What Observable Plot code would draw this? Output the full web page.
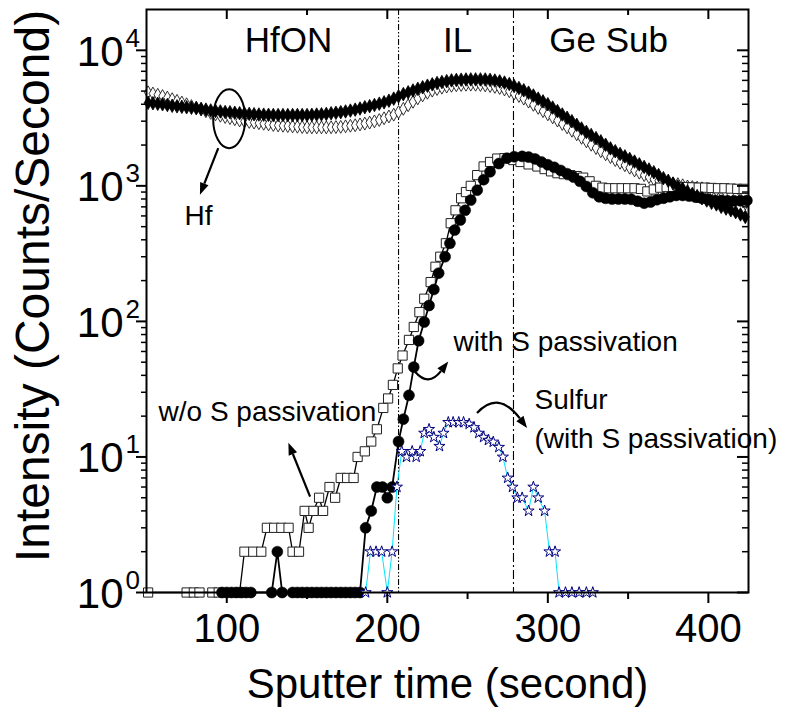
<!DOCTYPE html>
<html><head><meta charset="utf-8">
<script src="https://cdn.jsdelivr.net/npm/d3@7"></script>
<script src="https://cdn.jsdelivr.net/npm/@observablehq/plot@0.6"></script>
<style>body{margin:0;background:#fff}#chart svg{overflow:visible}</style>
</head><body><div id="chart"></div>
<script>
// ---------- axis ticks ----------
const xMajor = [100, 200, 300, 400];
const xMinor = [150, 250, 350];
const yDecades = [1, 10, 100, 1000, 10000];
const yExponents = ["0", "1", "2", "3", "4"];
const yMinorMult = [2, 3, 4, 5, 6, 7, 8, 9];

// ---------- region labels / boundaries ----------
const regionLabels = ["HfON", "IL", "Ge Sub"];
const regionX = [138.5, 243.8, 337.9];
const boundaryX = [207, 278.6];

// ---------- Hf (diamonds) ----------
const hfTime = [51,54,57,60,63,66,69,72,75,78,81,84,87,90,93,96,99,102,105,108,111,114,117,120,123,126,129,132,135,138,141,144,147,150,153,156,159,162,165,168,171,174,177,180,183,186,189,192,195,198,201,204,207,210,213,216,219,222,225,228,231,234,237,240,243,246,249,252,255,258,261,264,267,270,273,276,279,282,285,288,291,294,297,300,303,306,309,312,315,318,321,324,327,330,333,336,339,342,345,348,351,354,357,360,363,366,369,372,375,378,381,384,387,390,393,396,399,402,405,408,411,414,417,420,423];
const hfWithout = [4900,4800,4700,4600,4480,4360,4240,4120,4000,3880,
3770,3660,3550,3450,3370,3290,3220,3160,3100,3040,
2990,2960,2930,2900,2870,2840,2810,2790,2775,2760,
2745,2730,2715,2700,2700,2700,2700,2700,2705,2715,
2725,2750,2775,2800,2840,2880,2930,2990,3060,3150,
3250,3350,3500,3700,3930,4170,4420,4650,4860,5040,
5180,5300,5400,5470,5520,5550,5570,5580,5570,5550,
5510,5450,5370,5270,5140,4990,4800,4600,4400,4180,
3960,3760,3560,3370,3200,3030,2860,2700,2550,2400,
2260,2130,2010,1900,1800,1710,1630,1550,1480,1420,
1360,1300,1250,1200,1160,1120,1090,1060,1050,1040,
1030,1010,990,980,970,960,950,940,930,910,
890,860,830,790,740];
const hfWith = [4100,4070,4030,4000,3950,3900,3860,3830,3800,3770,
3740,3700,3650,3600,3570,3540,3505,3490,3460,3435,
3415,3395,3375,3360,3350,3340,3330,3330,3330,3330,
3330,3330,3330,3330,3340,3355,3370,3395,3430,3460,
3495,3540,3590,3650,3720,3800,3870,3950,4040,4130,
4250,4400,4580,4750,4900,5050,5200,5340,5480,5610,
5730,5830,5920,6000,6040,6070,6090,6100,6100,6100,
6090,6050,5980,5900,5780,5640,5450,5270,5070,4870,
4640,4400,4200,4000,3780,3560,3360,3180,3000,2820,
2650,2500,2370,2250,2130,2010,1890,1800,1720,1650,
1580,1510,1440,1380,1320,1260,1200,1140,1090,1040,
990,950,910,870,840,810,780,750,730,700,
680,660,640,615,590];

// ---------- Ge, without S passivation (open squares) ----------
const geWoTime = [51,75,79.5,83,91,95,108,111,116.5,121.5,125,129.5,134,138.5,141,145,148.5,151,154,157.5,160,164,167.5,171,175,179,181.5,186,190,193.5,197.5,200.5,203.5,206.5,209.5,213.5,216.5,220,223,227,230,233,236.5,239.5,242.5,246,249,252,256,260,264,268.5,273,278.5,283,288,293.5,298,302,306,310,314,318,322,326,330,334,338,342,346,350,354,358,362,366,370,374,378,382,386,390,394,398,402,406,410,414,418,422];
const geWoVal = [1,1,1,1,1,1,1,2,2,2,3,3,3,3,2,2,4,3,4,5,4,6,5,7,7,7,10,11,13,16,23,27,34,45,56,73,91,117,147,195,253,300,377,530,660,810,900,1000,1200,1390,1500,1590,1600,1550,1500,1440,1390,1330,1280,1240,1220,1200,1180,1150,1080,1000,970,960,960,960,960,960,950,910,940,970,980,980,980,980,975,970,970,965,960,960,955,950,950];

// ---------- Ge, with S passivation (filled circles) ----------
const geWsTime = [97,100,103,106,109,112,115,128,131.5,134.5,141,144,147,150,153,156,159,162,165,168,171,174,177,180,183,186.5,190,193.5,197,200,203,207,210,213.5,216.5,219.5,223,226,229,232,236,239,242,245.5,248.5,252,256,260,264,269.5,274.5,279,284,288,292,296,300,304,308,312,316,320,324,328,332,336,340,344,348,352,356,360,364,368,372,376,380,384,388,392,396,400,404,408,412,416,420,424];
const geWsVal = [1,1,1,1,1,1,1,1,2,1,1,1,1,1,1,1,1,1,1,1,1,1,1,1,1,3,4,6,6,5,6,13,19,28.5,46,72,99,131,172,227,300,377,472,560,660,785,930,1110,1270,1460,1600,1640,1650,1630,1580,1500,1430,1370,1300,1230,1160,1080,990,890,830,810,800,800,800,795,770,745,760,790,810,830,850,850,840,825,810,795,780,780,775,775,775,780];

// ---------- Sulfur (stars) ----------
const sTime = [186.5,189.5,193,196.5,200,203,206,209,212,215.5,218,220.5,223,226,229,232.5,235,238,241,244.5,247.5,251,254,257,260,263,266,269.5,272,275,278,281,284,288,291,294,298,301,304.5,307,311,315,319.5,324,328];
const sVal = [1,2,2,2,1,2,6,11,10,11,10,11,15,16,14,12,15,18,18,18,18,17.5,16.5,15,14,13.3,12.9,11.8,10,7,6,5,5,4,6,5,4,2,2,1,1,1,1,1,1];

// ---------- annotations ----------
const noteText = ["w/o S passivation", "with S passivation", "Sulfur", "(with S passivation)", "Hf"];
const noteX = [57.5, 241.3, 291.7, 291.7, 73.7];
const noteY = [21.4, 70.4, 26.3, 13.6, 598];
const hfEllipse = {t: 101.8, v: 3105};
const arrows = [
  [[95.0, 1882], [83.6, 851]],
  [[152.2, 5.05], [138.7, 12.6]],
  [[217.6, 42.2], [225.9, 32.4], [238.3, 50.1]],
  [[256.2, 20.9], [269.5, 31.0], [287.4, 16.2]]
];

// ---------- checks ----------
[[hfTime, hfWithout], [hfTime, hfWith], [geWoTime, geWoVal], [geWsTime, geWsVal], [sTime, sVal]].forEach(([a, b], i) => {
  if (a.length !== b.length) throw new Error("length mismatch in series " + i + ": " + a.length + " vs " + b.length);
});

const rec = (ts, vs) => ts.map((t, i) => ({t, v: vs[i]}));
const hfWo = rec(hfTime, hfWithout);
const hfWs = rec(hfTime, hfWith);
const geWo = rec(geWoTime, geWoVal);
const geWs = rec(geWsTime, geWsVal);
const sul = rec(sTime, sVal);
const yMinor = yDecades.slice(0, 4).flatMap(d => yMinorMult.map(m => m * d));

const W = 785, H = 708, mL = 146, mR = 37, mT = 9, mB = 116;
const innerW = W - mL - mR, innerH = H - mT - mB;
const font = "Liberation Sans, Arial, Helvetica, sans-serif";

const chart = Plot.plot({
  width: W, height: H,
  marginLeft: mL, marginRight: mR, marginTop: mT, marginBottom: mB,
  x: {domain: [50, 425], axis: null},
  y: {type: "log", domain: [1, 20000], axis: null},
  style: {fontFamily: font, background: "white", color: "black"},
  marks: [
    // region boundaries
    Plot.ruleX([boundaryX[0]], {x: d => d, stroke: "black", strokeWidth: 1.1, strokeDasharray: "6,2,1.5,2,1.5,2"}),
    Plot.ruleX([boundaryX[1]], {x: d => d, stroke: "black", strokeWidth: 1.1, strokeDasharray: "9,3,2,3"}),
    // Hf without S (open diamonds)
    Plot.dot(hfWo, {x: "t", y: "v", symbol: "diamond", r: 3.9, fill: "white", stroke: "black", strokeWidth: 0.8}),
    // Ge without S (open squares)
    Plot.line(geWo, {x: "t", y: "v", stroke: "black", strokeWidth: 1.3}),
    Plot.dot(geWo, {x: "t", y: "v", symbol: "square", r: 5.2, fill: "white", stroke: "#222", strokeWidth: 1}),
    // Hf with S (filled diamonds)
    Plot.dot(hfWs, {x: "t", y: "v", symbol: "diamond", r: 4.1, fill: "black", stroke: "black", strokeWidth: 0.8}),
    // Ge with S (filled circles)
    Plot.line(geWs, {x: "t", y: "v", stroke: "black", strokeWidth: 1.8}),
    Plot.dot(geWs, {x: "t", y: "v", symbol: "circle", r: 5.5, fill: "black", stroke: "black", strokeWidth: 0.5}),
    // Sulfur (stars)
    Plot.line(sul, {x: "t", y: "v", stroke: "#00e5ff", strokeWidth: 1}),
    Plot.dot(sul, {x: "t", y: "v", symbol: "star", r: 3.5, fill: "white", stroke: "#000080", strokeWidth: 1}),
    // frame and axes
    Plot.frame({stroke: "black", strokeWidth: 2}),
    Plot.axisX({anchor: "bottom", ticks: xMajor, tickSize: 11, tickPadding: 10, strokeWidth: 2, fontSize: 40, tickFormat: d => String(d), label: null}),
    Plot.axisX({anchor: "bottom", ticks: xMinor, tickSize: 7, strokeWidth: 2, tickFormat: () => "", label: null}),
    Plot.tickX(xMajor, {x: d => d, insetBottom: innerH - 10, strokeWidth: 2}),
    Plot.tickX(xMinor, {x: d => d, insetBottom: innerH - 6, strokeWidth: 2}),
    Plot.axisY({anchor: "left", ticks: yDecades, tickSize: 10, strokeWidth: 2, tickFormat: () => "", label: null}),
    Plot.axisY({anchor: "left", ticks: yMinor, tickSize: 5, strokeWidth: 1.5, tickFormat: () => "", label: null}),
    Plot.tickY(yDecades, {y: d => d, insetLeft: innerW - 11, strokeWidth: 2}),
    Plot.tickY(yMinor, {y: d => d, insetLeft: innerW - 6, strokeWidth: 1.5}),
    // y tick labels 10^n
    Plot.text(yDecades, {y: d => d, frameAnchor: "left", text: () => "10", textAnchor: "end", lineAnchor: "middle", dx: -23, dy: 2, fontSize: 42, fill: "black"}),
    Plot.text(yDecades, {y: d => d, frameAnchor: "left", text: (d, i) => yExponents[i], textAnchor: "start", lineAnchor: "middle", dx: -21, dy: -12, fontSize: 26, fill: "black"}),
    // axis titles
    Plot.text(["Sputter time (second)"], {frameAnchor: "bottom", text: d => d, textAnchor: "middle", lineAnchor: "middle", dy: 92, fontSize: 42, fill: "black"}),
    Plot.text(["Intensity (Counts/Second)"], {frameAnchor: "left", text: d => d, rotate: -90, textAnchor: "middle", lineAnchor: "middle", dx: -113, dy: -15, fontSize: 48, fill: "black"}),
    // region labels
    Plot.text(regionLabels, {x: (d, i) => regionX[i], frameAnchor: "top", textAnchor: "middle", lineAnchor: "top", dy: 18, text: d => d, fontSize: 35, fill: "black"}),
    // annotation texts
    Plot.text(noteText, {x: (d, i) => noteX[i], y: (d, i) => noteY[i], text: d => d, textAnchor: "start", lineAnchor: "middle", fontSize: 28, fill: "black"})
  ]
});

document.getElementById("chart").appendChild(chart);

// ---------- annotation shapes, positioned through Plot's scales ----------
const sx = chart.scale("x"), sy = chart.scale("y");
const P = ([t, v]) => [sx.apply(t), sy.apply(v)];
const g = d3.select(chart).append("g").attr("fill", "none").attr("stroke", "black");
g.append("ellipse")
  .attr("cx", sx.apply(hfEllipse.t)).attr("cy", sy.apply(hfEllipse.v))
  .attr("rx", 16).attr("ry", 29.5).attr("stroke-width", 2);
function drawArrow(pts) {
  const p = pts.map(P);
  const e = p[p.length - 1], c = p[p.length - 2];
  const ang = Math.atan2(e[1] - c[1], e[0] - c[0]);
  const head = 12, hw = 4.5;
  const bx = e[0] - head * Math.cos(ang), by = e[1] - head * Math.sin(ang);
  const d = p.length === 2 ? `M${p[0]}L${bx},${by}` : `M${p[0]}Q${p[1]} ${bx},${by}`;
  g.append("path").attr("d", d).attr("stroke-width", 2.2);
  const nx = -Math.sin(ang) * hw, ny = Math.cos(ang) * hw;
  g.append("path").attr("d", `M${e}L${bx + nx},${by + ny}L${bx - nx},${by - ny}Z`).attr("fill", "black").attr("stroke", "none");
}
arrows.forEach(drawArrow);
</script></body></html>
